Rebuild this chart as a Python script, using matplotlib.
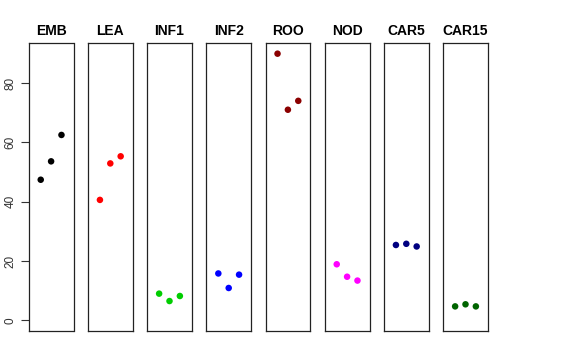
"""Eight-panel strip plot of three replicate values per tissue."""

import matplotlib.pyplot as plt

plt.rcParams["font.family"] = ["Liberation Sans", "DejaVu Sans"]

tissues = ["EMB", "LEA", "INF1", "INF2", "ROO", "NOD", "CAR5", "CAR15"]
colors = ["black", "red", "#00CD00", "blue", "#8B0000", "magenta", "#000080", "#006400"]
replicates = [1, 2, 3]
values = [
    [47.4, 53.6, 62.5],
    [40.6, 52.9, 55.3],
    [9.0, 6.5, 8.2],
    [15.8, 10.9, 15.4],
    [89.9, 71.0, 74.0],
    [18.9, 14.7, 13.4],
    [25.4, 25.8, 24.9],
    [4.7, 5.4, 4.7],
]
yticks = [0, 20, 40, 60, 80]

W, H = 576, 360
fig = plt.figure(figsize=(W / 100, H / 100), dpi=100)

left0, step, width = 28.7, 59.2, 44.8
top, bottom = 43.0, 331.0

for i, (name, col, vals) in enumerate(zip(tissues, colors, values)):
    x0 = left0 + i * step
    ax = fig.add_axes([x0 / W, 1 - bottom / H, width / W, (bottom - top) / H])
    ax.scatter(replicates, vals, s=22, color=col, edgecolors="none", zorder=3)
    ax.set_xlim(-0.16, 4.16)
    ax.set_ylim(-3.6, 93.5)
    ax.set_xticks([])
    for sp in ax.spines.values():
        sp.set_linewidth(0.9)
        sp.set_color("#222222")
    ax.set_title(name, fontsize=10, fontweight="bold", pad=6)
    if i == 0:
        ax.set_yticks(yticks)
        ax.set_yticklabels([str(t) for t in yticks], rotation=90, va="center",
                           fontsize=8.5, color="#333333")
        ax.tick_params(axis="y", length=6, width=0.8, pad=3, colors="#333333",
                       labelcolor="#333333")
    else:
        ax.set_yticks([])

fig.savefig("out.png", dpi=100)
